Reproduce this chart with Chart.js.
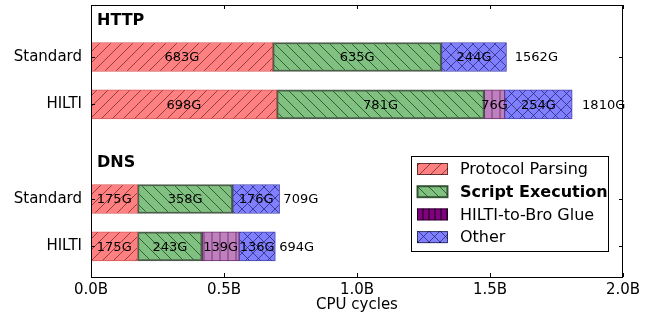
<!DOCTYPE html>
<html><head><meta charset="utf-8">
<script src="https://cdn.jsdelivr.net/npm/chart.js@4"></script>
<style>html,body{margin:0;padding:0;background:#fff}</style>
</head><body>
<canvas id="c" width="652" height="316"></canvas>
<script>
// data (G cycles)
const rowLabels=['Standard','HILTI','Standard','HILTI'];
const rowPos=[1,2,4,5];
const groupLabels=['HTTP','DNS'];
const groupPos=[0.24,3.24];
const seriesNames=['Protocol Parsing','Script Execution','HILTI-to-Bro Glue','Other'];
const parsing=[683,698,175,175];
const script=[635,781,358,243];
const glue=[null,76,null,139];
const other=[244,254,176,136];
const totals=[1562,1810,709,694];
const xTicks=[0,500,1000,1500,2000];

const FONT='"DejaVu Sans", sans-serif';

function hatch(bg,kind,line,s){
  const c=document.createElement('canvas'); c.width=c.height=s;
  const g=c.getContext('2d');
  g.fillStyle=bg; g.fillRect(0,0,s,s);
  g.strokeStyle=line; g.lineWidth=0.9; g.beginPath();
  if(kind==='/'||kind==='x'){ g.moveTo(-1,s+1); g.lineTo(s+1,-1); }
  if(kind==='\\'||kind==='x'){ g.moveTo(-1,-1); g.lineTo(s+1,s+1); }
  if(kind==='|'){ g.moveTo(s/2,0); g.lineTo(s/2,s); }
  g.stroke();
  return g.createPattern(c,'repeat');
}
const fills=[
  hatch('#ff8080','/','rgba(90,30,30,0.75)',11),
  hatch('#80c080','\\','rgba(20,60,20,0.8)',11),
  hatch('#c080c0','|','rgba(80,30,80,0.8)',8),
  hatch('#8080ff','x','rgba(30,30,110,0.8)',11)
];
const legendFills=[fills[0],fills[1],hatch('#800080','|','#000',6),fills[3]];
const borders=['rgba(210,70,70,0.9)','rgba(30,55,30,0.8)','#6a306a','#4646b0'];
const borderW=[1,2,1,1];
const series=[parsing,script,glue,other];

const datasets=series.map((arr,i)=>({
  label:seriesNames[i],
  data:arr.map((v,j)=>v==null?null:{x:v,y:rowPos[j]}).filter(p=>p),
  backgroundColor:fills[i],
  borderColor:borders[i],
  borderWidth:borderW[i],
  borderSkipped:false,
  barThickness:29
}));

const deco={
  id:'deco',
  afterDatasetsDraw(chart){
    const c=chart.ctx, xs=chart.scales.x, ys=chart.scales.y, a=chart.chartArea;
    c.save();
    c.fillStyle='#000';
    c.textBaseline='middle';
    // segment labels
    c.font='13px '+FONT; c.textAlign='center';
    chart.data.datasets.forEach((ds,i)=>{
      chart.getDatasetMeta(i).data.forEach((el,k)=>{
        c.fillText(ds.data[k].x+'G',(el.x+el.base)/2,el.y+1);
      });
    });
    // totals
    c.textAlign='left';
    totals.forEach((t,j)=>{
      c.fillText(t+'G',xs.getPixelForValue(t*1.02),ys.getPixelForValue(rowPos[j])+1);
    });
    // group headers
    c.font='bold 16px '+FONT;
    groupLabels.forEach((g,j)=>c.fillText(g,a.left+6,ys.getPixelForValue(groupPos[j])));
    // frame + inward ticks
    c.strokeStyle='#000'; c.lineWidth=1;
    c.strokeRect(a.left+0.5,a.top+0.5,a.right-a.left-1,a.bottom-a.top);
    c.beginPath();
    xTicks.forEach(v=>{
      const px=Math.round(xs.getPixelForValue(v))+0.5;
      c.moveTo(px,a.bottom); c.lineTo(px,a.bottom-4);
      c.moveTo(px,a.top); c.lineTo(px,a.top+4);
    });
    rowPos.forEach(v=>{
      const py=Math.round(ys.getPixelForValue(v))+0.5;
      c.moveTo(a.left,py); c.lineTo(a.left+4,py);
      c.moveTo(a.right,py); c.lineTo(a.right-4,py);
    });
    c.stroke();
    // legend
    const L=a.right-212, T=a.top+151, W=197, H=95;
    c.fillStyle='#fff'; c.fillRect(L,T,W,H);
    c.strokeRect(L+0.5,T+0.5,W,H);
    seriesNames.forEach((n,i)=>{
      const cy=T+13+i*22.7;
      c.fillStyle=legendFills[i];
      c.fillRect(L+6,cy-6,31,12);
      c.strokeStyle=i===1?'rgba(30,55,30,0.8)':'rgba(0,0,0,0.6)';
      c.lineWidth=i===1?2:1;
      c.strokeRect(L+6.5,cy-5.5,30,11);
      c.fillStyle='#000';
      c.font=(i===1?'bold ':'')+'16px '+FONT;
      c.fillText(n,L+49,cy+1);
    });
    c.restore();
  }
};

new Chart(document.getElementById('c'),{
  type:'bar',
  data:{datasets},
  options:{
    indexAxis:'y',
    responsive:false,
    animation:false,
    devicePixelRatio:1,
    layout:{padding:{top:5,right:29,left:0,bottom:0}},
    plugins:{legend:{display:false},tooltip:{enabled:false}},
    scales:{
      x:{
        type:'linear',stacked:true,min:0,max:2000,offset:false,
        afterBuildTicks:s=>{s.ticks=xTicks.map(v=>({value:v}));},
        afterFit:s=>{s.height=39;s.paddingLeft=0;s.paddingRight=0;},
        grid:{display:false,drawTicks:false},
        border:{display:false},
        ticks:{padding:4,color:'#000',font:{family:FONT,size:15},callback:v=>(v/1000).toFixed(1)+'B'},
        title:{display:true,text:'CPU cycles',color:'#000',font:{family:FONT,size:15},padding:{top:0,bottom:2}}
      },
      y:{
        type:'linear',stacked:true,reverse:true,min:-0.099,max:5.648,offset:false,
        afterBuildTicks:s=>{s.ticks=rowPos.map(v=>({value:v}));},
        afterFit:s=>{s.width=91;s.paddingTop=0;s.paddingBottom=0;},
        grid:{display:false,drawTicks:false},
        border:{display:false},
        ticks:{padding:9,autoSkip:false,color:'#000',font:{family:FONT,size:15},
          callback:v=>{const k=rowPos.indexOf(v);return k<0?'':rowLabels[k];}}
      }
    }
  },
  plugins:[deco]
});
</script>
</body></html>
